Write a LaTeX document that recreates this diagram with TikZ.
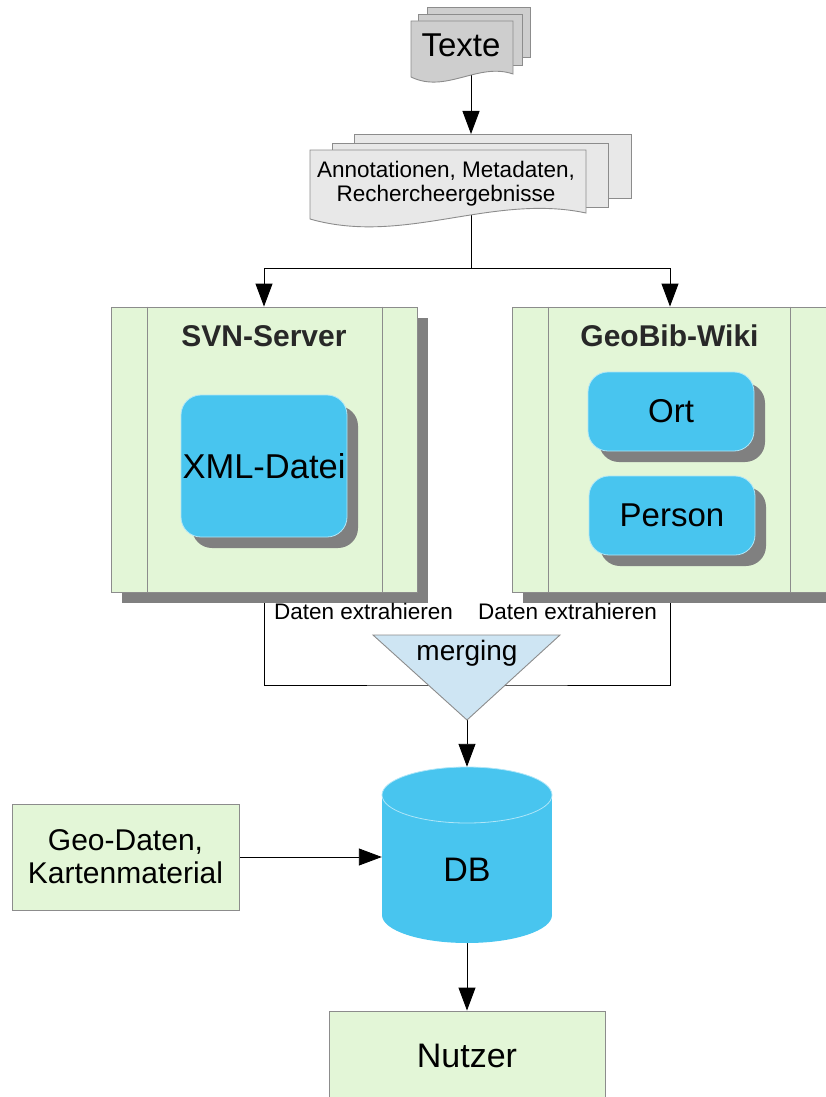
\documentclass[tikz,border=0pt]{standalone}
\usepackage{fontspec}
\setmainfont{Liberation Sans}
\usetikzlibrary{arrows.meta,shadows,backgrounds}

\definecolor{boxgreen}{RGB}{227,246,215}
\definecolor{boxblue}{RGB}{72,197,239}
\definecolor{blueedge}{RGB}{175,230,248}
\definecolor{shadowgray}{RGB}{128,128,128}
\definecolor{edgegray}{RGB}{140,140,140}
\definecolor{docgray}{RGB}{206,206,206}
\definecolor{doclight}{RGB}{232,232,232}
\definecolor{mergeblue}{RGB}{206,229,243}
\definecolor{titlegray}{RGB}{40,40,40}

\newcommand{\fsz}[2]{\fontsize{#1}{#2}\selectfont}

\begin{document}
\begin{tikzpicture}[x=1pt,y=-1pt,
  conn/.style={draw=black,line width=0.9pt},
  arr/.style={conn,-{Triangle[length=23pt,width=17pt]}},
  sheet/.style={draw=edgegray,line width=0.9pt},
  shadowed/.style={drop shadow={shadow xshift=11pt,shadow yshift=-11pt,fill=shadowgray,opacity=1}},
  greenbox/.style={draw=edgegray,line width=0.9pt,fill=boxgreen,inner sep=0pt,align=center},
  server/.style={greenbox,shadowed,minimum height=285pt},
  bluebox/.style={draw=blueedge,line width=0.8pt,fill=boxblue,rounded corners=20pt,
                  inner sep=0pt,shadowed,minimum width=166pt},
  title/.style={font=\bfseries\fsz{30}{34},text=titlegray,inner sep=0pt},
  small/.style={font=\fsz{22.5}{24},inner sep=0pt}]

\useasboundingbox (0,0) rectangle (826,1097);
\clip (0,0) rectangle (826,1097);

% ---- stacked "Texte" documents
\filldraw[sheet,fill=docgray] (427,7) rectangle (530,57);
\filldraw[sheet,fill=docgray] (418,14) rectangle (522,65);
\filldraw[sheet,fill=docgray] (411,77) -- (411,21) -- (513,21) -- (513,74)
   .. controls (478,62) and (446,94) .. (411,77) -- cycle;
\node[font=\fsz{33}{36},inner sep=0pt] (texte) at (461,45) {Texte};
\coordinate (texteOut) at (471,60);

% ---- stacked annotation documents
\filldraw[sheet,fill=doclight] (354,134) rectangle (631,198);
\filldraw[sheet,fill=doclight] (332,143) rectangle (608,207);
\filldraw[sheet,fill=doclight] (310,219) -- (310,150) -- (586,150) -- (586,213)
   .. controls (492,193) and (404,246) .. (310,219) -- cycle;
\node[small,align=center,font=\fsz{22.5}{24}] (ann) at (446,184)
   {Annotationen, Metadaten,\\Rechercheergebnisse};
\coordinate (annIn) at (471,134);
\coordinate (annOut) at (471,205);
\coordinate (split) at (471,268);

% ---- SVN server
\node[server,minimum width=306pt] (svn) at (264,449.5) {};
\draw[edgegray,line width=0.9pt] ([xshift=37pt]svn.north west) -- ([xshift=37pt]svn.south west);
\draw[edgegray,line width=0.9pt] ([xshift=-35pt]svn.north east) -- ([xshift=-35pt]svn.south east);
\node[title] (svntitle) at (264,336) {SVN-Server};
\node[bluebox,minimum height=142pt,font=\fsz{34.5}{38}] (xml) at (264,466) {XML-Datei};

% ---- GeoBib wiki
\node[server,minimum width=316pt] (wiki) at (670,449.5) {};
\draw[edgegray,line width=0.9pt] ([xshift=37pt]wiki.north west) -- ([xshift=37pt]wiki.south west);
\draw[edgegray,line width=0.9pt] ([xshift=-38pt]wiki.north east) -- ([xshift=-38pt]wiki.south east);
\node[title] (wikititle) at (669.5,336) {GeoBib-Wiki};
\node[bluebox,minimum height=79pt,font=\fsz{33}{38}] (ort) at (671,411.5) {Ort};
\node[bluebox,minimum height=79pt,font=\fsz{33}{38}] (person) at (672,515.5) {Person};

% ---- extraction labels
\node[small] (extL) at (363.5,611.5) {Daten extrahieren};
\node[small] (extR) at (567.5,611.5) {Daten extrahieren};
\coordinate (mergeIn) at (467,685);

% ---- connectors (kept underneath the shapes)
\begin{scope}[on background layer]
  \draw[arr] (texteOut) -- (annIn);
  \draw[conn] (annOut) -- (split);
  \draw[arr] (split) -| (svn.north);
  \draw[arr] (split) -| (wiki.north);
  \draw[conn] (svn.south) |- (mergeIn) -| (wiki.south);
\end{scope}

% ---- merging funnel
\filldraw[draw=edgegray,line width=0.9pt,fill=mergeblue] (373,635) -- (560,635) -- (467,720) -- cycle;
\node[font=\fsz{28}{30},inner sep=0pt] (merge) at (467,653) {merging};
\coordinate (mergeApex) at (467,720);

% ---- database cylinder
\fill[boxblue] (382,795) rectangle (552,915);
\fill[boxblue] (467,915) ellipse [x radius=85, y radius=28];
\fill[boxblue] (467,795) ellipse [x radius=85, y radius=28];
\draw[blueedge,line width=0.8pt] (467,795) ellipse [x radius=85, y radius=28];
\node[minimum width=170pt,minimum height=176pt,inner sep=0pt,
      font=\fsz{34}{38},text height=53.3pt,text depth=0pt] (db) at (467,855) {DB};

% ---- geo data and users
\node[greenbox,minimum width=227pt,minimum height=106pt,font=\fsz{30}{33}] (geo) at (125.5,857)
   {Geo-Daten,\\Kartenmaterial};
\node[greenbox,minimum width=276pt,minimum height=89pt,font=\fsz{34}{38}] (nutzer) at (467,1055.5) {Nutzer};

\begin{scope}[on background layer]
  \draw[arr] (mergeApex) -- (db.north);
  \draw[arr] (geo.east) -- (db.west |- geo.east);
  \draw[arr] (db.south) -- (nutzer.north);
\end{scope}
\end{tikzpicture}
\end{document}
